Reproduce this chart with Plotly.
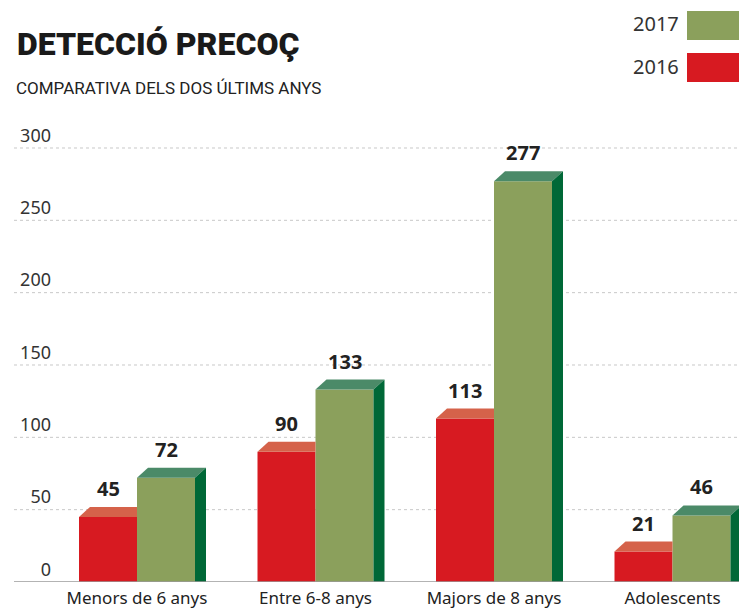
import plotly.graph_objects as go

# ---- data ----
categories = ["Menors de 6 anys", "Entre 6-8 anys", "Majors de 8 anys", "Adolescents"]
values_2016 = [45, 90, 113, 21]
values_2017 = [72, 133, 277, 46]
y_ticks = [0, 50, 100, 150, 200, 250, 300]
title_text = "DETECCIÓ PRECOÇ"
subtitle_text = "COMPARATIVA DELS DOS ÚLTIMS ANYS"

# ---- style / geometry ----
W, H = 739, 611
ML, MR, MT, MB = 52, 0, 120, 29
PW = W - ML - MR
PH = H - MT - MB
XR = [-(137 - ML) / 178.5, 3 + (W - 672.5) / 178.5]
YR = [0, PH / 1.4467]
px_per_x = PW / (XR[1] - XR[0])
px_per_y = PH / (YR[1] - YR[0])
BW = 58 / px_per_x
DX = 11 / px_per_x
DY = 10 / px_per_y

RED, RED_TOP = "#d71a21", "#d5624a"
GREEN, GREEN_TOP, GREEN_SIDE = "#8ba05c", "#4b8a68", "#006837"
FONT = "Noto Sans"


def pxx(p):
    return (p - ML) / PW


def pxy(p):
    return (H - MB - p) / PH


fig = go.Figure()

idx = list(range(len(categories)))
red_x = [i - BW / 2 for i in idx]
green_x = [i + BW / 2 for i in idx]

fig.add_trace(go.Bar(x=red_x, y=values_2016, width=BW, marker=dict(color=RED, line=dict(width=0)),
                     name="2016", showlegend=False, hoverinfo="skip"))
fig.add_trace(go.Bar(x=green_x, y=values_2017, width=BW, marker=dict(color=GREEN, line=dict(width=0)),
                     name="2017", showlegend=False, hoverinfo="skip"))

# 3D faces
for i, v in zip(idx, values_2016):
    xl = i - BW
    xs = [xl, xl + BW, xl + BW, xl + DX, xl]
    ys = [v, v, v + DY, v + DY, v]
    fig.add_trace(go.Scatter(x=xs, y=ys, fill="toself", fillcolor=RED_TOP, mode="none",
                             showlegend=False, hoverinfo="skip"))
for i, v in zip(idx, values_2017):
    xl = i
    xs = [xl, xl + BW, xl + BW + DX, xl + DX, xl]
    ys = [v, v, v + DY, v + DY, v]
    fig.add_trace(go.Scatter(x=xs, y=ys, fill="toself", fillcolor=GREEN_TOP, mode="none",
                             showlegend=False, hoverinfo="skip"))
    xs = [xl + BW, xl + BW + DX, xl + BW + DX, xl + BW, xl + BW]
    ys = [0, 0, v + DY, v, 0]
    fig.add_trace(go.Scatter(x=xs, y=ys, fill="toself", fillcolor=GREEN_SIDE, mode="none",
                             showlegend=False, hoverinfo="skip"))

shapes = []
for t in y_ticks:
    if t == 0:
        continue
    shapes.append(dict(type="line", xref="paper", yref="y", x0=pxx(14), x1=1, y0=t, y1=t,
                       line=dict(color="#c8c8c8", width=1, dash="dot"), layer="below"))
shapes.append(dict(type="line", xref="paper", yref="y", x0=pxx(14), x1=1, y0=0, y1=0,
                   line=dict(color="#9a9a9a", width=1.5), layer="above"))
# legend swatches
shapes.append(dict(type="rect", xref="paper", yref="paper", x0=pxx(687), x1=pxx(739),
                   y0=pxy(40), y1=pxy(11), fillcolor=GREEN, line=dict(width=0)))
shapes.append(dict(type="rect", xref="paper", yref="paper", x0=pxx(687), x1=pxx(739),
                   y0=pxy(82), y1=pxy(53), fillcolor=RED, line=dict(width=0)))

annotations = []
for i, v in zip(idx, values_2016):
    annotations.append(dict(x=i - BW / 2, y=v + DY, text=str(v), showarrow=False, yanchor="bottom",
                            yshift=3, font=dict(family=FONT, size=20, color="#222", weight="bold")))
for i, v in zip(idx, values_2017):
    annotations.append(dict(x=i + BW / 2, y=v + DY, text=str(v), showarrow=False, yanchor="bottom",
                            yshift=3, font=dict(family=FONT, size=20, color="#222", weight="bold")))

annotations.append(dict(xref="paper", yref="paper", x=pxx(15), y=pxy(44), text=title_text,
                        showarrow=False, xanchor="left", yanchor="middle",
                        font=dict(family="Roboto", size=32, color="#1a1a1a", weight=900)))
annotations.append(dict(xref="paper", yref="paper", x=pxx(14), y=pxy(88), text=subtitle_text,
                        showarrow=False, xanchor="left", yanchor="middle",
                        font=dict(family="Roboto", size=17, color="#222")))
annotations.append(dict(xref="paper", yref="paper", x=pxx(681), y=pxy(24), text="2017",
                        showarrow=False, xanchor="right", yanchor="middle",
                        font=dict(family=FONT, size=20, color="#333")))
annotations.append(dict(xref="paper", yref="paper", x=pxx(681), y=pxy(67), text="2016",
                        showarrow=False, xanchor="right", yanchor="middle",
                        font=dict(family=FONT, size=20, color="#333")))

fig.update_layout(
    width=W, height=H,
    margin=dict(l=ML, r=MR, t=MT, b=MB, pad=0),
    paper_bgcolor="white", plot_bgcolor="white",
    barmode="overlay",
    showlegend=False,
    shapes=shapes,
    annotations=annotations,
    xaxis=dict(range=XR, tickvals=idx, ticktext=categories, showgrid=False, zeroline=False,
               showline=False, ticks="", ticklabelstandoff=4,
               tickfont=dict(family=FONT, size=17, color="#222"), fixedrange=True),
    yaxis=dict(range=YR, tickvals=y_ticks, showgrid=False, zeroline=False, showline=False,
               ticks="", ticklabelposition="outside top",
               tickfont=dict(family=FONT, size=18, color="#333"), fixedrange=True),
)

fig.write_html("out.html", config={"displayModeBar": False},
               post_script="document.body.style.margin='0';document.body.style.padding='0';"
                           "document.body.style.overflow='hidden';")
